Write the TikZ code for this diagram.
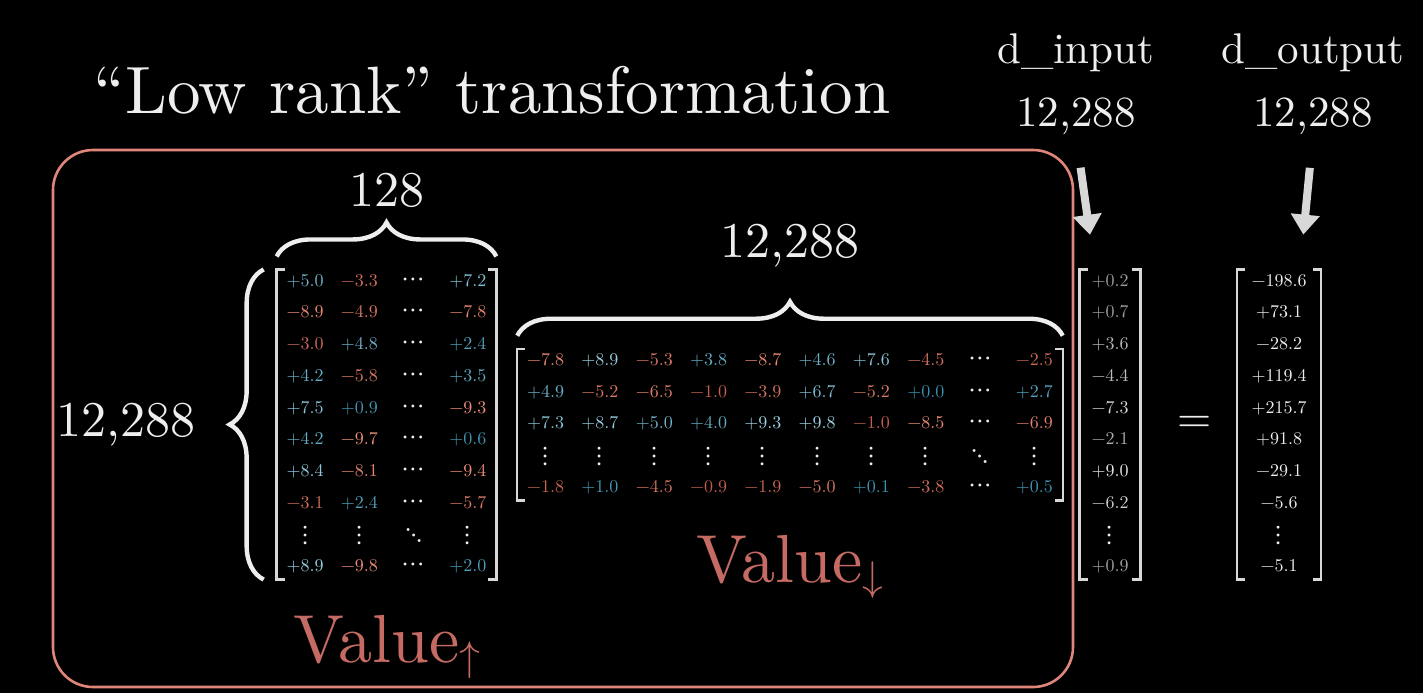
\documentclass[tikz,border=0pt]{standalone}
\usepackage{fontspec}
\setmainfont{lmroman10-regular.otf}
\newfontfamily\dotsfont{latinmodern-math.otf}
\usepackage{tikz}
\usetikzlibrary{matrix, positioning, calc, arrows.meta, decorations.pathreplacing}

\definecolor{outlineRed}{HTML}{E0857A}
\definecolor{labelRed}{HTML}{C56B63}
\definecolor{posLo}{HTML}{3A8FAD}
\definecolor{posHi}{HTML}{A2D4E4}
\definecolor{negLo}{HTML}{BD5A4A}
\definecolor{negHi}{HTML}{F0907A}
\definecolor{grayLo}{HTML}{9A9A9A}
\definecolor{grayHi}{HTML}{F0F0F0}
\definecolor{inkWhite}{HTML}{EEEEEE}
\definecolor{inkGray}{HTML}{D8D8D8}

% matrix entries, coloured by sign and size
\newcommand{\mval}[2]{\pgfmathtruncatemacro{\mpct}{#2*10}\ifx#1p\textcolor{posHi!\mpct!posLo}{+#2}\else\textcolor{negHi!\mpct!negLo}{−#2}\fi}
\newcommand{\gval}[2]{\pgfmathtruncatemacro{\mpct}{#2*10}\textcolor{grayHi!\mpct!grayLo}{\ifx#1p+\else−\fi#2}}
\newcommand{\vdotsg}{\raisebox{-1.5pt}{\fontsize{14}{14}\dotsfont ⋮}}
\newcommand{\cdotsg}{{\fontsize{14}{14}\dotsfont ⋯}}
\newcommand{\ddotsg}{\raisebox{-1.5pt}{\fontsize{14}{14}\dotsfont ⋱}}
\newcommand{\arrowsub}[1]{\raisebox{-4pt}{\fontsize{22}{22}\selectfont$#1$}}
\newcommand{\matbrackets}[1]{%
    \draw[bracket] ([xshift=4pt]#1.north west) -- (#1.north west) -- (#1.south west) -- ([xshift=4pt]#1.south west);
    \draw[bracket] ([xshift=-4pt]#1.north east) -- (#1.north east) -- (#1.south east) -- ([xshift=-4pt]#1.south east);}

\begin{document}
\begin{tikzpicture}[
    x=0.5pt, y=-0.5pt,
    heading/.style={font=\fontsize{33.5}{40}\selectfont, text=inkWhite, inner sep=0pt},
    toplbl/.style={font=\fontsize{21.5}{31.5}\selectfont, text=inkWhite, align=center, inner sep=0pt},
    biglbl/.style={font=\fontsize{25}{30}\selectfont, text=inkWhite, inner sep=0pt},
    vallbl/.style={font=\fontsize{34}{40}\selectfont, text=labelRed, inner sep=0pt},
    eqlbl/.style={font=\fontsize{22}{26}\selectfont, text=inkWhite, inner sep=0pt},
    cellnum/.style={font=\fontsize{9}{10}\selectfont, text=inkWhite, text height=6.2pt, text depth=1.8pt, minimum width=20pt, inner sep=0pt, anchor=center},
    mat/.style={matrix of nodes, inner xsep=4pt, inner ysep=2pt, row sep=7.85pt, column sep=7.15pt, nodes={cellnum}},
    bracket/.style={draw=inkGray, line width=1.2pt},
    curly/.style={decorate, decoration={brace, amplitude=17pt, raise=6.5pt}, draw=inkWhite, line width=2.2pt},
    bigarrow/.style={draw=inkGray, line width=4pt, -{Triangle[width=14pt, length=10pt]}, shorten <=16.5pt, shorten >=17.5pt},
    outline/.style={draw=outlineRed, line width=1.3pt, rounded corners=20pt}
]
    \fill[black] (0,0) rectangle (1423,693);
    \draw[outline] (53,150) rectangle (1073,687);

    % Nodes
    \node[heading, anchor=base] (title) at (492,113) {“Low rank” transformation};

    \matrix[mat] (up) at (386.5,424.5) {
        \mval p{5.0} & \mval n{3.3} & \cdotsg & \mval p{7.2} \\
        \mval n{8.9} & \mval n{4.9} & \cdotsg & \mval n{7.8} \\
        \mval n{3.0} & \mval p{4.8} & \cdotsg & \mval p{2.4} \\
        \mval p{4.2} & \mval n{5.8} & \cdotsg & \mval p{3.5} \\
        \mval p{7.5} & \mval p{0.9} & \cdotsg & \mval n{9.3} \\
        \mval p{4.2} & \mval n{9.7} & \cdotsg & \mval p{0.6} \\
        \mval p{8.4} & \mval n{8.1} & \cdotsg & \mval n{9.4} \\
        \mval n{3.1} & \mval p{2.4} & \cdotsg & \mval n{5.7} \\
        \vdotsg & \vdotsg & \ddotsg & \vdotsg \\
        \mval p{8.9} & \mval n{9.8} & \cdotsg & \mval p{2.0} \\
    };

    \matrix[mat] (down) at (790,424.5) {
        \mval n{7.8} & \mval p{8.9} & \mval n{5.3} & \mval p{3.8} & \mval n{8.7} & \mval p{4.6} & \mval p{7.6} & \mval n{4.5} & \cdotsg & \mval n{2.5} \\
        \mval p{4.9} & \mval n{5.2} & \mval n{6.5} & \mval n{1.0} & \mval n{3.9} & \mval p{6.7} & \mval n{5.2} & \mval p{0.0} & \cdotsg & \mval p{2.7} \\
        \mval p{7.3} & \mval p{8.7} & \mval p{5.0} & \mval p{4.0} & \mval p{9.3} & \mval p{9.8} & \mval n{1.0} & \mval n{8.5} & \cdotsg & \mval n{6.9} \\
        \vdotsg & \vdotsg & \vdotsg & \vdotsg & \vdotsg & \vdotsg & \vdotsg & \vdotsg & \ddotsg & \vdotsg \\
        \mval n{1.8} & \mval p{1.0} & \mval n{4.5} & \mval n{0.9} & \mval n{1.9} & \mval n{5.0} & \mval p{0.1} & \mval n{3.8} & \cdotsg & \mval p{0.5} \\
    };

    \matrix[mat, inner xsep=5pt] (invec) at (1110,424.5) {
        \gval p{0.2} \\ \gval p{0.7} \\ \gval p{3.6} \\ \gval n{4.4} \\ \gval n{7.3} \\
        \gval n{2.1} \\ \gval p{9.0} \\ \gval n{6.2} \\ \vdotsg \\ \gval p{0.9} \\
    };

    \matrix[mat, inner xsep=7pt] (outvec) at (1279,424.5) {
        −198.6 \\ +73.1 \\ −28.2 \\ +119.4 \\ +215.7 \\
        +91.8 \\ −29.1 \\ −5.6 \\ \vdotsg \\ −5.1 \\
    };

    \node[eqlbl] (eq) at ($(invec)!0.5!(outvec)$) {=};

    \node[biglbl, above=30.5pt of up.north] (rankcols) {128};
    \node[biglbl, left=40.5pt of up.west] (rankrows) {12,288};
    \node[biglbl, above=40.5pt of down.north] (modeldim) {12,288};
    \node[vallbl, below=17.5pt of up.south] (valup) {Value\arrowsub{\uparrow}};
    \node[vallbl, below=17.5pt of down.south] (valdown) {Value\arrowsub{\downarrow}};

    \node[toplbl] (inlbl) at (1076,84) {d\_input\\12,288};
    \node[toplbl] (outlbl) at (1313,84) {d\_output\\12,288};

    % Connections
    \matbrackets{up}
    \matbrackets{down}
    \matbrackets{invec}
    \matbrackets{outvec}

    \draw[curly] (up.north west) -- (up.north east);
    \draw[curly] (up.south west) -- (up.north west);
    \draw[curly] (down.north west) -- (down.north east);

    \draw[bigarrow] (inlbl.south) -- ($(invec.north west)!0.5!(invec.north)$);
    \draw[bigarrow] (outlbl.south) -- ($(outvec.north)!0.5!(outvec.north east)$);

\end{tikzpicture}
\end{document}
